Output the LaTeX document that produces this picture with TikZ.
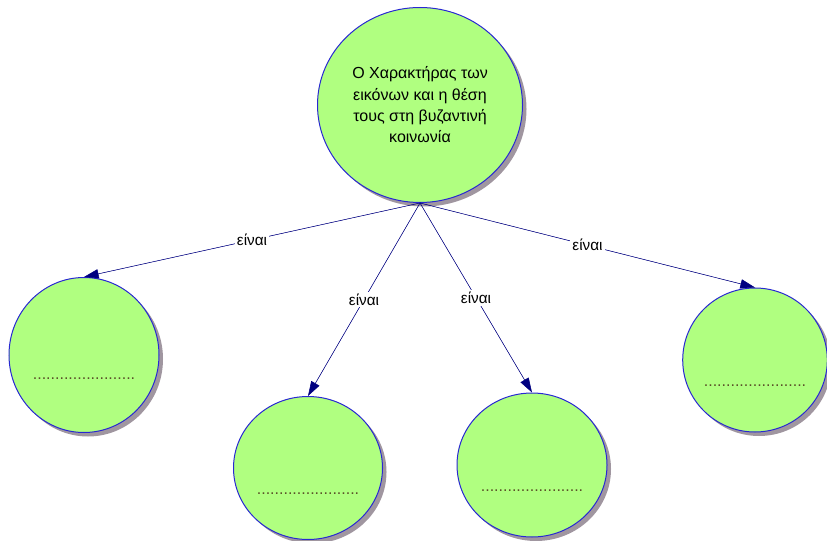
\documentclass[tikz,border=0pt]{standalone}
\usepackage{fontspec}
\setmainfont{Liberation Sans}
\usepackage{tikz}
\usetikzlibrary{arrows.meta, positioning, shapes.geometric, shadows}
\definecolor{bubblegreen}{RGB}{176,255,128}
\definecolor{bubbleline}{RGB}{40,40,210}
\definecolor{linknavy}{RGB}{0,0,128}
\definecolor{shadowgrey}{RGB}{160,150,160}
\definecolor{dotbrown}{RGB}{90,80,40}

\begin{document}
\begin{tikzpicture}[x=0.75pt, y=-0.75pt,
    bubble/.style={ellipse, draw=bubbleline, line width=0.75pt, fill=bubblegreen, align=center, inner sep=0pt,
        font=\fontsize{12}{16}\selectfont,
        drop shadow={shadow xshift=3pt, shadow yshift=-3pt, fill=shadowgrey, opacity=1}},
    blank/.style={bubble, text=dotbrown},
    arrow/.style={-{Triangle[length=11pt, width=7pt]}, draw=linknavy, fill=linknavy},
    linklabel/.style={midway, fill=white, inner sep=1.5pt, font=\fontsize{11.5}{14}\selectfont}
]
    \useasboundingbox (0,0) rectangle (827,541);
    \node[bubble, minimum width=153.75pt, minimum height=146.25pt] (topic) at (420,105)
        {Ο Χαρακτήρας των\\εικόνων και η θέση\\τους στη βυζαντινή\\κοινωνία};
    \node[blank, minimum width=112.5pt, minimum height=116.25pt] (first) at (84,355)
        {\strut\\[9pt].......................};
    \node[blank, minimum width=111.75pt, minimum height=107.25pt] (second) at (308,468)
        {\strut\\[13pt].......................};
    \node[blank, minimum width=112.5pt, minimum height=108pt] (third) at (532,465)
        {\strut\\[13pt].......................};
    \node[blank, minimum width=108pt, minimum height=108pt] (fourth) at (755,360)
        {\strut\\[13pt].......................};

    \draw[arrow] (topic.south) -- node[linklabel] {είναι} (first.north);
    \draw[arrow] (topic.south) -- node[linklabel] {είναι} (second.north);
    \draw[arrow] (topic.south) -- node[linklabel] {είναι} (third.north);
    \draw[arrow] (topic.south) -- node[linklabel] {είναι} (fourth.north);
\end{tikzpicture}
\end{document}
